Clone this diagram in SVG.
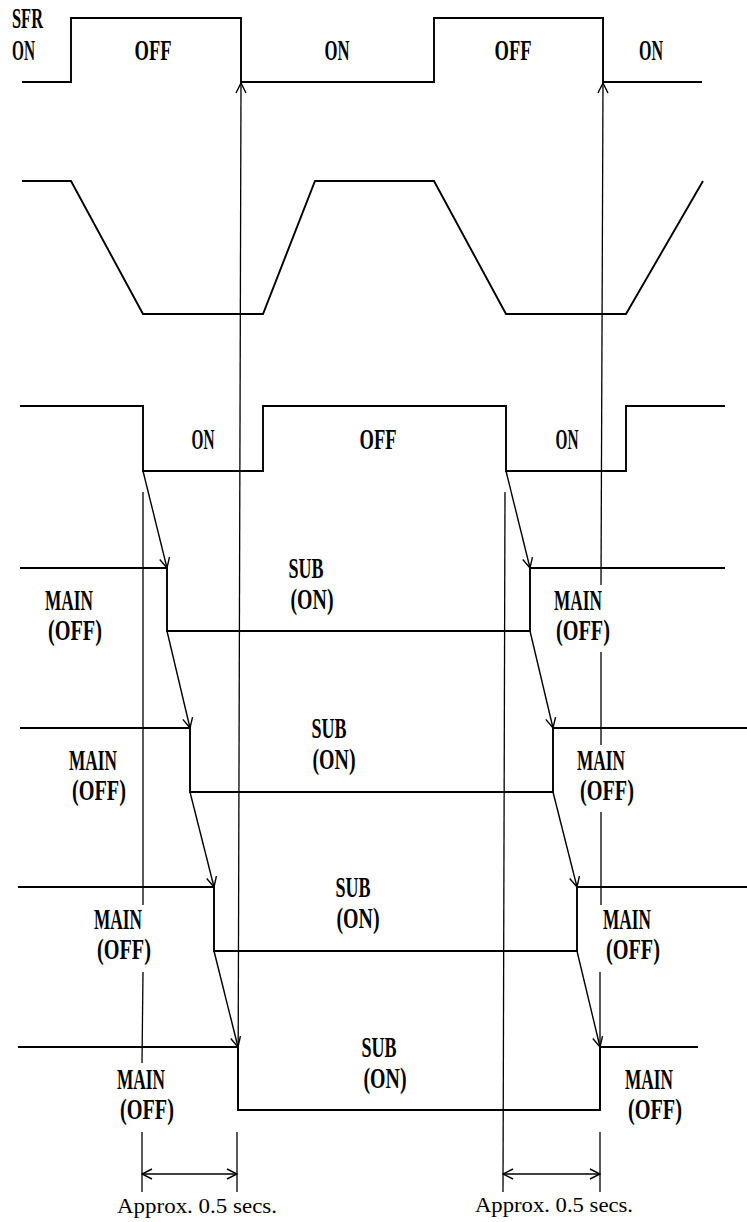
<svg xmlns="http://www.w3.org/2000/svg" width="747" height="1222" viewBox="0 0 747 1222">
<style>
.w{fill:none;stroke:#000;stroke-width:1.9;stroke-linejoin:miter}
.v{fill:none;stroke:#000;stroke-width:1.3}
.a{fill:none;stroke:#000;stroke-width:1.4}
.t{font-family:"Liberation Serif","Times New Roman",serif;font-weight:bold;font-size:29px;fill:#000}
.m{text-anchor:middle}
.s{font-family:"Liberation Serif","Times New Roman",serif;font-size:22px;fill:#000;text-anchor:middle}
</style>
<defs>
<marker id="ah" viewBox="0 0 12 12" refX="11" refY="6" markerWidth="12" markerHeight="12" markerUnits="userSpaceOnUse" orient="auto-start-reverse">
<path d="M1,1 L11,6 L1,11" fill="none" stroke="#000" stroke-width="1.4"/>
</marker>
</defs>
<rect width="747" height="1222" fill="#fff"/>

<g id="sfr">
<path class="w" d="M22,82 H71 V18 H241 V82 H434 V18 H603 V82 H702"/>
<text class="t" x="12" y="28" textLength="31" lengthAdjust="spacingAndGlyphs">SFR</text>
<text class="t" x="12" y="60" textLength="23" lengthAdjust="spacingAndGlyphs">ON</text>
<text class="t m" x="153" y="60" textLength="37" lengthAdjust="spacingAndGlyphs">OFF</text>
<text class="t m" x="337" y="60" textLength="25" lengthAdjust="spacingAndGlyphs">ON</text>
<text class="t m" x="513" y="60" textLength="37" lengthAdjust="spacingAndGlyphs">OFF</text>
<text class="t m" x="651" y="60" textLength="24" lengthAdjust="spacingAndGlyphs">ON</text>
</g>

<g id="row2">
<path class="w" d="M22,181 H71 L143,314 H263 L315,181 H434 L506,314 H626 L703,181"/>
</g>

<g id="row3">
<path class="w" d="M20,406 H143 V471 H263 V406 H506 V471 H626 V406 H725"/>
<text class="t m" x="203" y="449" textLength="23" lengthAdjust="spacingAndGlyphs">ON</text>
<text class="t m" x="378" y="449" textLength="37" lengthAdjust="spacingAndGlyphs">OFF</text>
<text class="t m" x="567" y="449" textLength="23" lengthAdjust="spacingAndGlyphs">ON</text>
</g>

<g id="row4">
<path class="w" d="M20,568 H167 V631 H530 V568 H725"/>
<text class="t m" x="306" y="578" textLength="35" lengthAdjust="spacingAndGlyphs">SUB</text>
<text class="t m" x="312" y="609" textLength="43" lengthAdjust="spacingAndGlyphs">(ON)</text>
<text class="t m" x="69" y="610" textLength="48" lengthAdjust="spacingAndGlyphs">MAIN</text>
<text class="t m" x="75" y="640" textLength="54" lengthAdjust="spacingAndGlyphs">(OFF)</text>
<text class="t m" x="578" y="610" textLength="48" lengthAdjust="spacingAndGlyphs">MAIN</text>
<text class="t m" x="583" y="640" textLength="54" lengthAdjust="spacingAndGlyphs">(OFF)</text>
</g>

<g id="row5">
<path class="w" d="M20,728 H190 V792 H553 V728 H747"/>
<text class="t m" x="329" y="738" textLength="35" lengthAdjust="spacingAndGlyphs">SUB</text>
<text class="t m" x="334" y="769" textLength="43" lengthAdjust="spacingAndGlyphs">(ON)</text>
<text class="t m" x="93" y="770" textLength="48" lengthAdjust="spacingAndGlyphs">MAIN</text>
<text class="t m" x="99" y="800" textLength="54" lengthAdjust="spacingAndGlyphs">(OFF)</text>
<text class="t m" x="601" y="770" textLength="48" lengthAdjust="spacingAndGlyphs">MAIN</text>
<text class="t m" x="607" y="800" textLength="54" lengthAdjust="spacingAndGlyphs">(OFF)</text>
</g>

<g id="row6">
<path class="w" d="M18,887 H214 V951 H577 V887 H747"/>
<text class="t m" x="353" y="897" textLength="35" lengthAdjust="spacingAndGlyphs">SUB</text>
<text class="t m" x="358" y="928" textLength="43" lengthAdjust="spacingAndGlyphs">(ON)</text>
<text class="t m" x="118" y="929" textLength="48" lengthAdjust="spacingAndGlyphs">MAIN</text>
<text class="t m" x="124" y="959" textLength="54" lengthAdjust="spacingAndGlyphs">(OFF)</text>
<text class="t m" x="627" y="929" textLength="48" lengthAdjust="spacingAndGlyphs">MAIN</text>
<text class="t m" x="633" y="959" textLength="54" lengthAdjust="spacingAndGlyphs">(OFF)</text>
</g>

<g id="row7">
<path class="w" d="M18,1047 H238 V1110 H600 V1047 H698"/>
<text class="t m" x="379" y="1057" textLength="35" lengthAdjust="spacingAndGlyphs">SUB</text>
<text class="t m" x="385" y="1088" textLength="43" lengthAdjust="spacingAndGlyphs">(ON)</text>
<text class="t m" x="141" y="1089" textLength="48" lengthAdjust="spacingAndGlyphs">MAIN</text>
<text class="t m" x="147" y="1119" textLength="54" lengthAdjust="spacingAndGlyphs">(OFF)</text>
<text class="t m" x="649" y="1089" textLength="48" lengthAdjust="spacingAndGlyphs">MAIN</text>
<text class="t m" x="655" y="1119" textLength="54" lengthAdjust="spacingAndGlyphs">(OFF)</text>
</g>

<g id="connectors">
<!-- vertical timing arrows up to SFR -->
<line class="v" x1="238" y1="1110" x2="241" y2="83" marker-end="url(#ah)"/>
<line class="v" x1="237" y1="1132" x2="237" y2="1192"/>
<line class="v" x1="601" y1="585" x2="603" y2="83" marker-end="url(#ah)"/>
<line class="v" x1="601" y1="652" x2="601" y2="745"/>
<line class="v" x1="601" y1="812" x2="601" y2="905"/>
<line class="v" x1="600" y1="972" x2="600" y2="1110"/>
<line class="v" x1="600" y1="1132" x2="600" y2="1192"/>
<!-- marker lines -->
<line class="v" x1="143" y1="492" x2="143" y2="905"/>
<line class="v" x1="143" y1="972" x2="142" y2="1063"/>
<line class="v" x1="142" y1="1132" x2="142" y2="1192"/>
<line class="v" x1="505" y1="492" x2="503" y2="1192"/>
<!-- slanted arrows -->
<line class="a" x1="143" y1="471" x2="167" y2="568" marker-end="url(#ah)"/>
<line class="a" x1="167" y1="631" x2="190" y2="728" marker-end="url(#ah)"/>
<line class="a" x1="190" y1="792" x2="214" y2="887" marker-end="url(#ah)"/>
<line class="a" x1="214" y1="951" x2="238" y2="1047" marker-end="url(#ah)"/>
<line class="a" x1="506" y1="471" x2="530" y2="568" marker-end="url(#ah)"/>
<line class="a" x1="530" y1="631" x2="553" y2="728" marker-end="url(#ah)"/>
<line class="a" x1="553" y1="792" x2="577" y2="887" marker-end="url(#ah)"/>
<line class="a" x1="577" y1="951" x2="600" y2="1047" marker-end="url(#ah)"/>
<!-- dimension arrows -->
<line class="a" x1="142" y1="1174" x2="237" y2="1174" marker-start="url(#ah)" marker-end="url(#ah)"/>
<line class="a" x1="503" y1="1174" x2="600" y2="1174" marker-start="url(#ah)" marker-end="url(#ah)"/>
</g>

<g id="labels">
<text class="s" x="197" y="1213" textLength="160" lengthAdjust="spacingAndGlyphs">Approx. 0.5 secs.</text>
<text class="s" x="554" y="1212" textLength="158" lengthAdjust="spacingAndGlyphs">Approx. 0.5 secs.</text>
</g>
</svg>
